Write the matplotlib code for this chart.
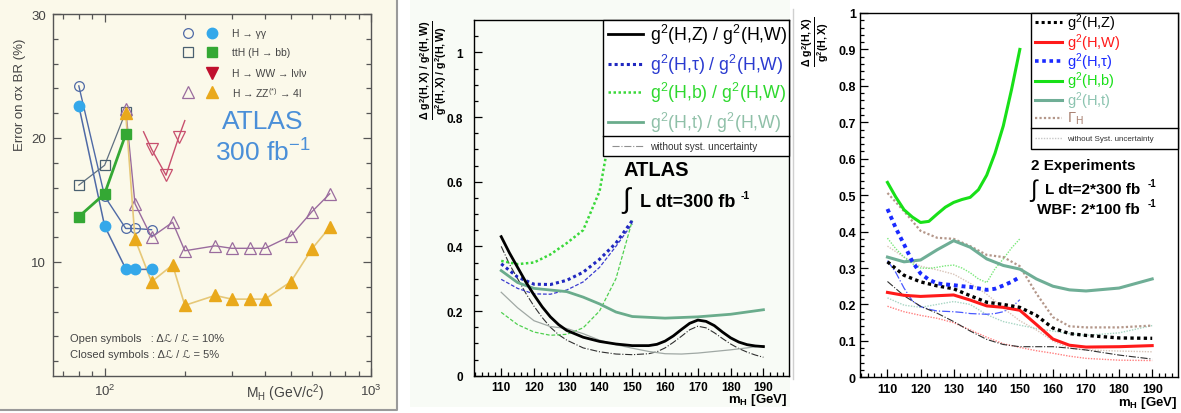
import matplotlib
matplotlib.use("Agg")
import matplotlib.pyplot as plt
from matplotlib.lines import Line2D
from matplotlib.patches import Rectangle
from matplotlib.ticker import NullFormatter

plt.rcParams['font.family'] = ['Liberation Sans', 'DejaVu Sans']
plt.rcParams['mathtext.fontset'] = 'custom'
plt.rcParams['mathtext.rm'] = 'Liberation Sans'
plt.rcParams['mathtext.it'] = 'Liberation Sans:italic'
plt.rcParams['mathtext.bf'] = 'Liberation Sans:bold'

# ---------------- panel 1: error on sigma x BR ----------------
gg_mass = [80, 100, 120, 130, 150]
gg_open = [24.2, 15.3, 12.7, 12.7, 12.6]
gg_closed = [22.6, 12.9, 9.45, 9.4, 9.4]

tth_mass = [80, 100, 120]
tth_open = [16.2, 17.8, 22.1]
tth_closed = [13.65, 15.5, 20.3]

ww_mass = [140, 150, 170, 190, 200]
ww_open = [20.5, 19.1, 17.0, 20.1, 21.4]

zz_mass = [120, 130, 150, 180, 200, 260, 300, 350, 400, 500, 600, 700]
zz_open = [22.3, 14.7, 12.0, 13.2, 10.9, 11.3, 11.1, 11.1, 11.1, 12.1, 14.05, 15.5]
zz_closed = [22.0, 11.85, 8.4, 9.76, 6.5, 7.3, 7.0, 7.0, 7.0, 8.4, 11.05, 12.8]

# ---------------- panel 2: coupling ratios to g^2(H,W) ----------------
m_zw = [110, 112.5, 115, 117.5, 120, 122.5, 125, 127.5, 130, 135, 140, 145, 150,
        155, 157.5, 160, 162.5, 165, 167.5, 170, 172.5, 175, 177.5, 180, 182.5,
        185, 187.5, 190]
zw = [0.43, 0.38, 0.335, 0.29, 0.25, 0.213, 0.182, 0.158, 0.14, 0.119, 0.106,
      0.098, 0.093, 0.093, 0.097, 0.107, 0.123, 0.143, 0.162, 0.172, 0.168,
      0.155, 0.135, 0.117, 0.104, 0.096, 0.092, 0.09]
zw_nosys = [0.40, 0.345, 0.30, 0.255, 0.215, 0.18, 0.15, 0.127, 0.11, 0.086,
            0.074, 0.067, 0.065, 0.068, 0.074, 0.086, 0.103, 0.122, 0.142,
            0.153, 0.148, 0.133, 0.115, 0.098, 0.084, 0.073, 0.064, 0.057]

m_low = [110, 115, 120, 125, 130, 135, 140, 145, 150]
tauw = [0.346, 0.305, 0.283, 0.282, 0.295, 0.32, 0.36, 0.41, 0.48]
tauw_nosys = [0.298, 0.27, 0.253, 0.252, 0.265, 0.29, 0.335, 0.40, 0.47]
bw = [0.355, 0.345, 0.35, 0.375, 0.41, 0.45, 0.57, 0.85, 1.3]
bw_nosys = [0.196, 0.158, 0.135, 0.125, 0.128, 0.148, 0.2, 0.3, 0.48]

m_tw = [110, 115, 120, 125, 130, 135, 140, 145, 150, 160, 170, 180, 190]
tw = [0.325, 0.288, 0.27, 0.265, 0.26, 0.243, 0.222, 0.197, 0.183, 0.178,
      0.182, 0.19, 0.204]
m_full = [110, 115, 120, 125, 130, 135, 140, 145, 150, 155, 160, 165, 170,
          175, 180, 185, 190]
tw_nosys = [0.258, 0.21, 0.17, 0.152, 0.146, 0.13, 0.11, 0.096, 0.085, 0.075,
            0.068, 0.067, 0.07, 0.075, 0.08, 0.086, 0.093]

# ---------------- panel 3: absolute couplings, 2 experiments ----------------
m3 = [110, 115, 120, 125, 130, 135, 140, 145, 150, 155, 160, 165, 170, 180, 190]
g_z = [0.317, 0.28, 0.262, 0.251, 0.243, 0.224, 0.206, 0.2, 0.192, 0.17, 0.135,
       0.12, 0.115, 0.108, 0.107]
g_w = [0.233, 0.225, 0.222, 0.224, 0.226, 0.212, 0.196, 0.192, 0.184, 0.145,
       0.105, 0.088, 0.083, 0.084, 0.087]
g_t = [0.33, 0.317, 0.322, 0.35, 0.375, 0.357, 0.325, 0.307, 0.297, 0.27, 0.25,
       0.24, 0.237, 0.245, 0.27]
gamma_h = [0.506, 0.456, 0.402, 0.383, 0.38, 0.36, 0.336, 0.33, 0.305, 0.23,
           0.165, 0.14, 0.137, 0.137, 0.142]
g_z_nosys = [0.263, 0.224, 0.195, 0.176, 0.153, 0.127, 0.104, 0.09, 0.084,
             0.084, 0.084, 0.08, 0.075, 0.061, 0.05]
g_w_nosys = [0.195, 0.18, 0.17, 0.162, 0.15, 0.13, 0.11, 0.092, 0.082, 0.073,
             0.066, 0.058, 0.052, 0.047, 0.046]
g_t_nosys = [0.218, 0.198, 0.192, 0.2, 0.208, 0.2, 0.172, 0.153, 0.143, 0.134,
             0.127, 0.12, 0.115, 0.122, 0.142]
gamma_h_nosys = [0.36, 0.33, 0.305, 0.295, 0.283, 0.258, 0.228, 0.19, 0.155,
                 0.13, 0.1, 0.08, 0.075, 0.072, 0.07]

m3s = [110, 112.5, 115, 117.5, 120, 122.5, 125, 127.5, 130, 132.5, 135, 137.5,
       140, 142.5, 145, 147.5, 150]
g_b = [0.535, 0.495, 0.46, 0.44, 0.425, 0.428, 0.448, 0.467, 0.48, 0.488, 0.494,
       0.515, 0.555, 0.615, 0.69, 0.79, 0.9]
g_tau = [0.462, 0.41, 0.365, 0.318, 0.285, 0.268, 0.258, 0.255, 0.253, 0.25,
         0.248, 0.244, 0.24, 0.243, 0.252, 0.262, 0.275]
g_b_nosys = [0.382, 0.353, 0.33, 0.312, 0.3, 0.299, 0.302, 0.306, 0.308, 0.3,
             0.287, 0.27, 0.26, 0.298, 0.325, 0.355, 0.38]
g_tau_nosys = [0.32, 0.288, 0.245, 0.21, 0.194, 0.187, 0.182, 0.181, 0.18,
               0.178, 0.175, 0.174, 0.173, 0.175, 0.18, 0.192, 0.213]

# ---------------- figure layout ----------------
W, H = 1181, 414
fig = plt.figure(figsize=(W / 100, H / 100), dpi=100)
fig.patch.set_facecolor('white')


def box(l, t, r, b):
    return [l / W, 1 - b / H, (r - l) / W, (b - t) / H]


def ftext(x, y, s, **kw):
    return fig.text(x / W, 1 - y / H, s, **kw)


def fmark(x, y, **kw):
    fig.add_artist(Line2D([x / W], [1 - y / H], transform=fig.transFigure,
                          linestyle='none', **kw))


def fline(x0, x1, y, **kw):
    fig.add_artist(Line2D([x0 / W, x1 / W], [1 - y / H, 1 - y / H],
                          transform=fig.transFigure, **kw))


# panel backgrounds
cream = '#fbf9ea'
fig.add_artist(Rectangle((0, 1 - 411 / H), 397 / W, 411 / H,
                         transform=fig.transFigure, fc=cream, ec='none', zorder=-20))
fig.add_artist(Line2D([0, 397 / W, 397 / W], [1 - 411 / H, 1 - 411 / H, 1],
                      transform=fig.transFigure, color='#9a9a9a', lw=1.5, zorder=-19))
fig.add_artist(Rectangle((410 / W, 1 - 408 / H), 380 / W, 408 / H,
                         transform=fig.transFigure, fc='#f8fbf6', ec='none', zorder=-20))
fig.add_artist(Line2D([793 / W, 793 / W], [1 - 380 / H, 1 - 10 / H],
                      transform=fig.transFigure, color='#d0d0d0', lw=1, zorder=-19))

# ================= panel 1 =================
ax1 = fig.add_axes(box(53, 15, 371, 377))
ax1.set_facecolor(cream)
ax1.set_xscale('log')
ax1.set_xlim(64, 1000)
ax1.set_ylim(0.8, 30)

c_gg_line = '#4f6aa6'
c_gg = '#34a8ea'
c_tth = '#34a834'
c_ww = '#c8506e'
c_zz_open = '#9a6c9e'
c_zz = '#e9a91c'

ax1.plot(gg_mass, gg_open, color=c_gg_line, lw=1.0, marker='o', ms=7,
         mfc='none', mec=c_gg_line, mew=0.9, zorder=3)
ax1.plot(tth_mass, tth_open, color='#607080', lw=0.9, marker='s', ms=7,
         mfc='none', mec='#4a6070', mew=0.9, zorder=3)
ax1.plot(zz_mass, zz_open, color=c_zz_open, lw=1.0, marker='^', ms=8,
         mfc='none', mec=c_zz_open, mew=0.9, zorder=3)
ax1.plot(ww_mass, ww_open, color=c_ww, lw=1.0, marker='v', ms=8,
         mfc='none', mec=c_ww, mew=0.9, markevery=[1, 2, 3], zorder=3)
ax1.plot(zz_mass, zz_closed, color='#e6c878', lw=1.2, marker='^', ms=8,
         mfc=c_zz, mec=c_zz, zorder=4)
ax1.plot(gg_mass, gg_closed, color=c_gg_line, lw=1.1, marker='o', ms=7.5,
         mfc=c_gg, mec=c_gg, zorder=4)
ax1.plot(tth_mass, tth_closed, color=c_tth, lw=2.0, marker='s', ms=7.5,
         mfc=c_tth, mec=c_tth, zorder=4)

ax1.set_xticks([100, 1000])
ax1.set_xticklabels(['$10^2$', '$10^3$'])
ax1.set_xticks([70, 80, 90, 200, 300, 400, 500, 600, 700, 800, 900], minor=True)
ax1.xaxis.set_minor_formatter(NullFormatter())
ax1.set_yticks([10, 20, 30])
ax1.set_yticks([v for v in range(2, 30, 2) if v % 10], minor=True)
ax1.tick_params(which='both', direction='in', top=True, right=True,
                colors='#555555', labelcolor='#444444', labelsize=9.5, width=0.9)
ax1.tick_params(which='major', length=6, pad=5)
ax1.tick_params(which='minor', length=3.5)
for s in ax1.spines.values():
    s.set_color('#555555')
    s.set_linewidth(1.0)

ftext(20, 95, 'Error on σx BR (%)', rotation=90, ha='center', va='center',
      fontsize=9.5, color='#444444')
ftext(285, 393, 'M$_\\mathregular{H}$ (GeV/c$^2$)', ha='center', va='center',
      fontsize=10, color='#444444')

# legend of panel 1
rows1 = [34.3, 52.7, 74, 93.3]
fmark(188, rows1[0], marker='o', ms=7, mfc='none', mec=c_gg_line, mew=0.9)
fmark(212, rows1[0], marker='o', ms=7.5, mfc=c_gg, mec=c_gg)
fmark(188, rows1[1], marker='s', ms=7, mfc='none', mec='#4a6070', mew=0.9)
fmark(212, rows1[1], marker='s', ms=7.5, mfc=c_tth, mec=c_tth)
fmark(212, rows1[2], marker='v', ms=8.5, mfc='#c0102e', mec='#c0102e')
fmark(188, rows1[3], marker='^', ms=8, mfc='none', mec=c_zz_open, mew=0.9)
fmark(212, rows1[3], marker='^', ms=8, mfc=c_zz, mec=c_zz)
leg1 = ['H → γγ', 'ttH (H → bb)', 'H → WW → lνlν', 'H → ZZ$^{(*)}$ → 4l']
for y, s in zip(rows1, leg1):
    ftext(232, y, s, ha='left', va='center', fontsize=7.5, color='#444444')

ftext(263, 122, 'ATLAS', ha='center', va='center', fontsize=19, color='#4a8fd8')
ftext(263, 153, '300 fb$^{-1}$', ha='center', va='center', fontsize=19,
      color='#4a8fd8')
ftext(70, 339, 'Open symbols   : Δℒ / ℒ = 10%', ha='left', va='center',
      fontsize=8, color='#444444')
ftext(70, 355, 'Closed symbols : Δℒ / ℒ = 5%', ha='left', va='center',
      fontsize=8, color='#444444')


# ================= ROOT style helpers =================
def root_axes(ax, ymax, ymajor, yminor, ylabels, ylabsize, ypad):
    ax.set_xlim(101.7, 197.8)
    ax.set_ylim(0, ymax)
    ax.set_xticks(range(110, 200, 10))
    ax.set_xticks([m for m in range(102, 198, 2) if m % 10], minor=True)
    ax.set_yticks(ymajor)
    ax.set_yticklabels(ylabels)
    ax.set_yticks(yminor, minor=True)
    ax.tick_params(which='both', direction='in', width=0.9, color='black')
    ax.tick_params(which='major', length=6)
    ax.tick_params(which='minor', length=3)
    ax.tick_params(axis='y', which='major', pad=ypad)
    ax.tick_params(axis='x', which='major', pad=4)
    for lab in ax.get_xticklabels() + ax.get_yticklabels():
        lab.set_fontweight('bold')
        lab.set_fontsize(ylabsize)
    for s in ax.spines.values():
        s.set_linewidth(1.0)


# ================= panel 2 =================
ax2 = fig.add_axes(box(474, 21, 789, 376.7))
ax2.set_facecolor('#f8fbf6')
root_axes(ax2, 1.1, [0, 0.2, 0.4, 0.6, 0.8, 1.0],
          [v / 100 for v in range(5, 110, 5) if v % 20],
          ['0', '0.2', '0.4', '0.6', '0.8', '1'], 8.5, 8)

c_blue2 = '#2028c0'
c_green2 = '#3ad83a'
c_teal2 = '#6aac8c'
dots = (0, (1, 1))

ax2.plot(m_zw, zw_nosys, color='#303030', lw=0.8, ls='-.')
ax2.plot(m_low, tauw_nosys, color='#3a3ad0', lw=0.9, ls=(0, (3, 1.5)))
ax2.plot(m_low, bw_nosys, color='#50d050', lw=0.9, ls=(0, (3, 1.5)))
ax2.plot(m_full, tw_nosys, color='#a0a8a4', lw=0.9, ls='-')
ax2.plot(m_tw, tw, color=c_teal2, lw=2.0)
ax2.plot(m_low, bw, color=c_green2, lw=1.8, ls=dots)
ax2.plot(m_low, tauw, color=c_blue2, lw=2.2, ls=dots)
ax2.plot(m_zw, zw, color='black', lw=2.0)

# legend of panel 2
fig.add_artist(Rectangle((603.3 / W, 1 - 156.7 / H), (789 - 603.3) / W,
                         (156.7 - 20.7) / H, transform=fig.transFigure,
                         fc='white', ec='black', lw=1.0, zorder=5))
fig.add_artist(Line2D([603.3 / W, 789 / W], [1 - 136.7 / H] * 2,
                      transform=fig.transFigure, color='black', lw=1.0, zorder=6))
leg2 = [('g$^2$(H,Z) / g$^2$(H,W)', 'black', '-', 2.0, 'black'),
        ('g$^2$(H,τ) / g$^2$(H,W)', c_blue2, dots, 2.2, '#2a3ad0'),
        ('g$^2$(H,b) / g$^2$(H,W)', c_green2, dots, 1.8, '#2ed82e'),
        ('g$^2$(H,t) / g$^2$(H,W)', c_teal2, '-', 2.0, '#8fc0a8')]
for y, (s, c, ls, lw, tc) in zip([35, 65, 93.3, 123.3], leg2):
    fline(608, 643, y, color=c, ls=ls, lw=lw, zorder=7)
    ftext(650, y, s, ha='left', va='center', fontsize=12.8, color=tc, zorder=7)
fline(612, 643, 146.7, color='#909090', ls='-.', lw=0.8, zorder=7)
ftext(650, 146.7, 'without syst. uncertainty', ha='left', va='center',
      fontsize=7.2, color='#333333', zorder=7)

ftext(623, 171, 'ATLAS', ha='left', va='center', fontsize=14.5,
      fontweight='bold')
ftext(627, 201, '$\\int$', ha='center', va='center', fontsize=20)
ftext(640, 203, 'L dt=300 fb', ha='left', va='center', fontsize=13,
      fontweight='bold')
ftext(741, 196, '-1', ha='left', va='center', fontsize=7.5, fontweight='bold')

ftext(434, 70, '$\\frac{\\mathbf{\\Delta\\ g^2(H,X)\\ /\\ g^2(H,W)}}'
      '{\\mathbf{g^2(H,X)\\ /\\ g^2(H,W)}}$', rotation=90, ha='center',
      va='center', fontsize=11)
ftext(787, 400, 'm$_\\mathbf{H}$ [GeV]', ha='right', va='center', fontsize=9.5,
      fontweight='bold')

# ================= panel 3 =================
ax3 = fig.add_axes(box(860, 14, 1178, 378.3))
root_axes(ax3, 1.0, [i / 10 for i in range(11)],
          [v / 100 for v in range(2, 100, 2) if v % 10],
          ['0'] + ['0.%d' % i for i in range(1, 10)] + ['1'], 9, 3)

c_red3 = '#ff1a1a'
c_blue3 = '#1a2aff'
c_green3 = '#18e018'
c_teal3 = '#6fae96'
c_brown3 = '#b4978a'

ax3.plot(m3, gamma_h_nosys, color='#d8c4b8', lw=1.0, ls=(0, (1, 1)))
ax3.plot(m3, g_t_nosys, color='#a8d6c4', lw=1.0, ls=(0, (1, 1)))
ax3.plot(m3s, g_b_nosys, color='#7ae87a', lw=1.0, ls=(0, (1, 1)))
ax3.plot(m3, g_w_nosys, color='#ff8080', lw=1.0, ls=(0, (1, 1)))
ax3.plot(m3s, g_tau_nosys, color='#4a5aff', lw=0.9, ls='-.')
ax3.plot(m3, g_z_nosys, color='#303030', lw=0.8, ls='-.')
ax3.plot(m3, gamma_h, color=c_brown3, lw=1.6, ls=(0, (1, 1)))
ax3.plot(m3, g_t, color=c_teal3, lw=2.2)
ax3.plot(m3s, g_b, color=c_green3, lw=2.2)
ax3.plot(m3, g_w, color=c_red3, lw=2.2)
ax3.plot(m3, g_z, color='black', lw=2.4, ls=(0, (1, 1)))
ax3.plot(m3s, g_tau, color=c_blue3, lw=2.8, ls=(0, (1, 1)))

fig.add_artist(Rectangle((1030.7 / W, 1 - 150 / H), (1178 - 1030.7) / W,
                         (150 - 14) / H, transform=fig.transFigure,
                         fc='white', ec='black', lw=1.0, zorder=5))
fig.add_artist(Line2D([1030.7 / W, 1178 / W], [1 - 129.3 / H] * 2,
                      transform=fig.transFigure, color='black', lw=1.0, zorder=6))
leg3 = [('g$^2$(H,Z)', 'black', (0, (1, 1)), 2.2, 'black'),
        ('g$^2$(H,W)', c_red3, '-', 2.2, c_red3),
        ('g$^2$(H,τ)', c_blue3, (0, (1, 1)), 2.6, c_blue3),
        ('g$^2$(H,b)', c_green3, '-', 2.2, c_green3),
        ('g$^2$(H,t)', c_teal3, '-', 2.2, '#8cc4b0'),
        ('Γ$_\\mathregular{H}$', c_brown3, (0, (1, 1)), 1.6, '#a88070')]
for y, (s, c, ls, lw, tc) in zip([23.3, 42.7, 62.3, 81.7, 101, 119], leg3):
    fline(1035, 1062, y, color=c, ls=ls, lw=lw, zorder=7)
    ftext(1067, y, s, ha='left', va='center', fontsize=10.5, color=tc, zorder=7)
fline(1035, 1062, 139.3, color='#c8c8c8', ls=(0, (1, 1)), lw=1.0, zorder=7)
ftext(1067, 139.3, 'without Syst. uncertainty', ha='left', va='center',
      fontsize=5.8, color='#333333', zorder=7)

ftext(1031, 166, '2 Experiments', ha='left', va='center', fontsize=11,
      fontweight='bold')
ftext(1034, 190, '$\\int$', ha='center', va='center', fontsize=17)
ftext(1045, 190, 'L dt=2*300 fb', ha='left', va='center', fontsize=11,
      fontweight='bold')
ftext(1148, 184, '-1', ha='left', va='center', fontsize=7, fontweight='bold')
ftext(1037, 210, 'WBF: 2*100 fb', ha='left', va='center', fontsize=11,
      fontweight='bold')
ftext(1148, 204, '-1', ha='left', va='center', fontsize=7, fontweight='bold')

ftext(816, 42, '$\\frac{\\mathbf{\\Delta\\ g^2(H,X)}}{\\mathbf{g^2(H,X)}}$',
      rotation=90, ha='center', va='center', fontsize=11)
ftext(1177, 403, 'm$_\\mathbf{H}$ [GeV]', ha='right', va='center',
      fontsize=9.5, fontweight='bold')

fig.savefig('out.png', dpi=100)
